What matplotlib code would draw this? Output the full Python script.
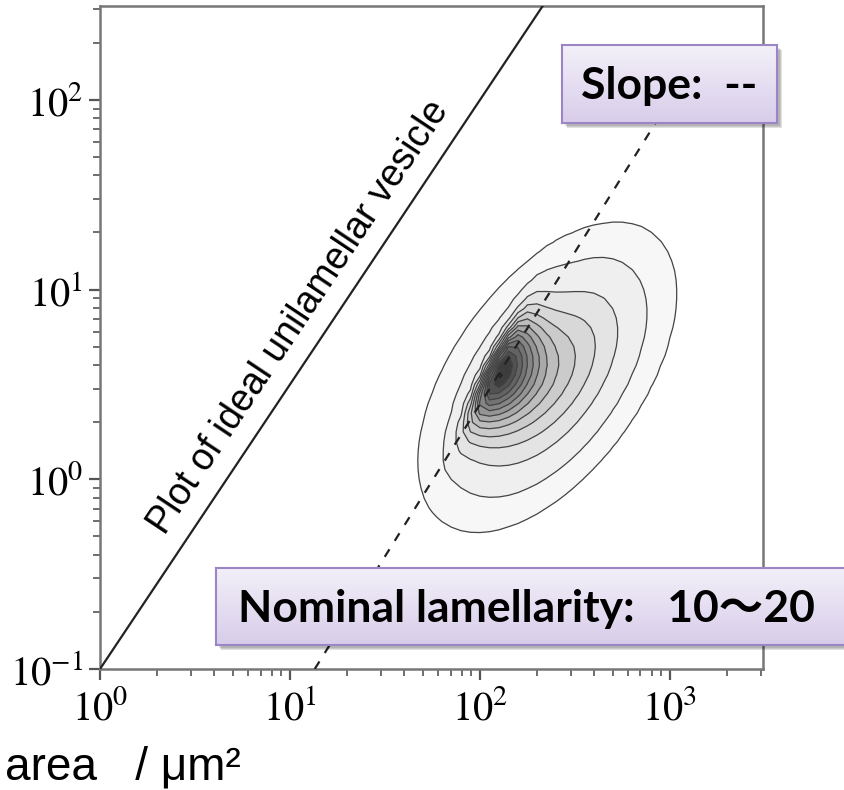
import math
import numpy as np
import matplotlib
matplotlib.use("Agg")
import matplotlib.pyplot as plt
from matplotlib.patches import Rectangle
from matplotlib.colors import LinearSegmentedColormap
from matplotlib.ticker import LogLocator, FuncFormatter, NullFormatter

# ---- data ----
ideal_x = [1.0, 220.0]          # ideal unilamellar vesicle line
ideal_y = [0.1, 326.0]
fit_x = [13.5, 1000.0]          # dashed guide line
fit_y = [0.1, 100.0]

# density in log10 units = sharp skewed core + broad body
core_loc = [2.06, 0.59]
core_slope = 2.0
core_sig = [0.20, 0.14]      # along, across
core_alpha = 5.0
core_w = 1.0
body_loc = [2.354, 0.538]
body_slope = 1.4
body_sig = [0.36, 0.19]
body_alpha = 0.0
body_w = 0.64
level_frac = [0.010, 0.04, 0.11, 0.19, 0.27, 0.35, 0.43, 0.51, 0.59,
              0.67, 0.75, 0.83, 0.90, 0.96]

x_ticks = [1, 10, 100, 1000]
y_ticks = [0.1, 1, 10, 100]

slope_text = "Slope:  --"
lam_text = "Nominal lamellarity:   10\u301c20"
ideal_text = "Plot of ideal unilamellar vesicle"
xlabel_text = "area   / \u03bcm\u00b2"

plt.rcParams["mathtext.fontset"] = "stix"

fig = plt.figure(figsize=(8.45, 7.9), dpi=100)
W, H = 845, 790


def fig_rect(x0, y0, x1, y1):
    # pixel box (top-left origin) -> figure fraction rect
    return [x0 / W, 1 - y1 / H, (x1 - x0) / W, (y1 - y0) / H]


ax = fig.add_axes(fig_rect(100, 6, 763, 669))
ax.set_xscale("log")
ax.set_yscale("log")
ax.set_xlim(1, 10 ** 3.49)
ax.set_ylim(0.1, 10 ** 2.495)

erf = np.frompyfunc(math.erf, 1, 1)


def skew_blob(LX, LY, loc, slope, sig, alpha):
    th = np.arctan(slope)
    dx, dy = LX - loc[0], LY - loc[1]
    a = (dx * np.cos(th) + dy * np.sin(th)) / sig[0]
    b = (dx * np.sin(th) - dy * np.cos(th)) / sig[1]
    phi2 = 1 + erf(alpha * b / math.sqrt(2)).astype(float)
    return np.exp(-0.5 * (a ** 2 + b ** 2)) * phi2


# density on a coarse grid -> polygonal contours like the original
gx = np.arange(1.50, 3.45, 0.05)
gy = np.arange(-0.70, 1.75, 0.05)
LX, LY = np.meshgrid(gx, gy)
Z = (core_w * skew_blob(LX, LY, core_loc, core_slope, core_sig, core_alpha)
     + body_w * skew_blob(LX, LY, body_loc, body_slope, body_sig, body_alpha))
levels = [f * Z.max() for f in level_frac] + [Z.max() * 1.01]

cmap = plt.get_cmap("Greys")
fills = [cmap(0.07 + 0.80 * i / (len(levels) - 2)) for i in range(len(levels) - 1)]
ax.contourf(10 ** LX, 10 ** LY, Z, levels=levels, colors=fills, zorder=1)
ax.contour(10 ** LX, 10 ** LY, Z, levels=levels[:-1], colors="#444444",
           linewidths=0.9, zorder=2)

ax.plot(ideal_x, ideal_y, color="#222222", lw=1.6, zorder=3)
ax.plot(fit_x, fit_y, color="#222222", lw=1.6, linestyle=(0, (4, 4.5)), zorder=3)

ax.text(2.2, 0.5, ideal_text, rotation=56.3, rotation_mode="anchor",
        ha="left", va="baseline", fontsize=27, family="Liberation Sans",
        zorder=4)

# axes styling
for s in ax.spines.values():
    s.set_color("#777777")
    s.set_linewidth(1.8)
ax.xaxis.set_minor_locator(LogLocator(base=10, subs=np.arange(2, 10), numticks=20))
ax.yaxis.set_minor_locator(LogLocator(base=10, subs=np.arange(2, 10), numticks=20))
fmt = FuncFormatter(lambda v, p: r"$\mathrm{10}^{\mathrm{%d}}$" % round(np.log10(v)))
ax.set_xticks(x_ticks)
ax.set_yticks(y_ticks)
ax.xaxis.set_major_formatter(fmt)
ax.yaxis.set_major_formatter(fmt)
ax.xaxis.set_minor_formatter(NullFormatter())
ax.yaxis.set_minor_formatter(NullFormatter())
ax.tick_params(which="both", direction="out", color="#555555", top=False, right=False)
ax.tick_params(which="major", length=8, width=1.6, labelsize=29)
ax.tick_params(which="minor", length=5, width=1.2)
ax.tick_params(axis="x", which="major", pad=6)
ax.tick_params(axis="y", which="major", pad=4)

fig.text(5 / W, 1 - 780 / H, xlabel_text, fontsize=33, family="Liberation Sans",
         ha="left", va="baseline")

# lavender callout boxes with a soft shadow and a vertical gradient
grad = np.linspace(0, 1, 64).reshape(-1, 1)
lav = LinearSegmentedColormap.from_list("lav", ["#f3f0f9", "#d8cdea"])


def callout(x0, y0, x1, y1, text, tx, size):
    for k, al in enumerate([0.10, 0.10, 0.12]):
        off = 3 + k
        fig.patches.append(Rectangle((x0 / W + off / W, 1 - (y1 + off) / H),
                                     (x1 - x0) / W, (y1 - y0) / H,
                                     transform=fig.transFigure, color="black",
                                     alpha=al, lw=0, zorder=5))
    bx = fig.add_axes(fig_rect(x0, y0, x1, y1), zorder=6)
    bx.imshow(grad, aspect="auto", cmap=lav, extent=[0, 1, 0, 1], origin="upper")
    bx.set_xlim(0, 1)
    bx.set_ylim(0, 1)
    bx.set_xticks([])
    bx.set_yticks([])
    for s in bx.spines.values():
        s.set_color("#9c85c4")
        s.set_linewidth(1.5)
    bx.text(tx, 0.47, text, transform=bx.transAxes, fontsize=size,
            fontweight="bold", family=["Lato", "Noto Sans CJK JP"],
            ha="left", va="center")


callout(562, 45, 777, 123, slope_text, 0.09, 32)
callout(216, 568, 850, 645, lam_text, 0.035, 32)

fig.savefig("out.png", dpi=100)
